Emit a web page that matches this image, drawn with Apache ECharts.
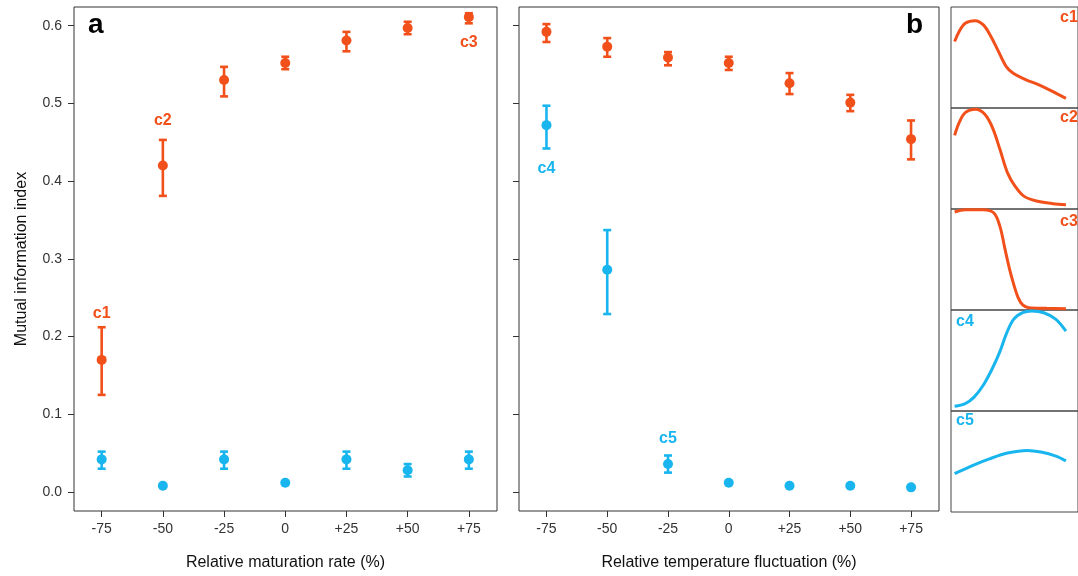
<!DOCTYPE html>
<html>
<head>
<meta charset="utf-8">
<script src="https://cdn.jsdelivr.net/npm/echarts@6/dist/echarts.min.js"></script>
<style>
html,body{margin:0;padding:0;background:#fff;}
#chart{width:1078px;height:576px;}
</style>
</head>
<body>
<div id="chart"></div>
<script>
// ---------- data ----------
const xCategories = [-75, -50, -25, 0, 25, 50, 75];
const yTicks = [0, 0.1, 0.2, 0.3, 0.4, 0.5, 0.6];

// panel a: relative maturation rate
const aOrangeMean = [0.170, 0.420, 0.530, 0.552, 0.581, 0.597, 0.611];
const aOrangeLow  = [0.125, 0.381, 0.509, 0.544, 0.567, 0.589, 0.603];
const aOrangeHigh = [0.212, 0.453, 0.547, 0.560, 0.592, 0.605, 0.616];
const aBlueMean = [0.042, 0.008, 0.042, 0.012, 0.042, 0.028, 0.042];
const aBlueLow  = [0.030, 0.007, 0.030, 0.011, 0.030, 0.020, 0.030];
const aBlueHigh = [0.052, 0.009, 0.052, 0.013, 0.052, 0.036, 0.052];

// panel b: relative temperature fluctuation
const bOrangeMean = [0.592, 0.573, 0.559, 0.552, 0.526, 0.501, 0.454];
const bOrangeLow  = [0.579, 0.560, 0.549, 0.543, 0.512, 0.490, 0.428];
const bOrangeHigh = [0.602, 0.584, 0.566, 0.560, 0.539, 0.511, 0.478];
const bBlueMean = [0.472, 0.286, 0.036, 0.012, 0.008, 0.008, 0.006];
const bBlueLow  = [0.442, 0.229, 0.025, 0.011, 0.007, 0.007, 0.005];
const bBlueHigh = [0.497, 0.337, 0.047, 0.013, 0.009, 0.009, 0.007];

// point annotations
const labelNames = ['c1', 'c2', 'c3', 'c4', 'c5'];

// profile curves (strips c1..c5), relative position and normalized height
const c1X = [4, 9, 15.7, 26.7, 35.7, 44, 52.3, 60.7, 69, 82.3, 95.7, 109, 126.7];
const c1Y = [0.659, 0.757, 0.840, 0.865, 0.823, 0.708, 0.560, 0.413, 0.341, 0.282, 0.233, 0.177, 0.095];
const c2X = [4, 9, 15.7, 27.3, 37.3, 45.7, 54, 62.3, 70.7, 80.7, 95.7, 112.3, 126.7];
const c2Y = [0.729, 0.855, 0.954, 0.987, 0.937, 0.805, 0.589, 0.358, 0.225, 0.125, 0.076, 0.053, 0.043];
const c3X = [4, 15.7, 35.7, 47.3, 54, 59, 64, 69, 74, 79, 85.7, 105.7, 126.7];
const c3Y = [0.970, 0.993, 0.993, 0.960, 0.826, 0.625, 0.425, 0.258, 0.123, 0.050, 0.023, 0.017, 0.013];
const c4X = [4, 15.7, 25.7, 35.7, 45.7, 54, 60.7, 69, 79, 89, 102.3, 115.7, 126.7];
const c4Y = [0.047, 0.073, 0.140, 0.257, 0.423, 0.590, 0.757, 0.907, 0.973, 0.990, 0.973, 0.907, 0.790];
const c5X = [4, 22.3, 42.3, 62.3, 84, 99, 115.7, 126.7];
const c5Y = [0.380, 0.455, 0.526, 0.584, 0.610, 0.594, 0.553, 0.505];

// ---------- styling ----------
const ORANGE = '#F2501A';
const BLUE = '#19B5EE';
const FONT = '"Liberation Sans", Arial, sans-serif';
const AXIS_COLOR = '#333';

const chart = echarts.init(document.getElementById('chart'), null, {renderer: 'canvas'});

const zip3 = (x, a, b) => x.map((v, i) => [v, a[i], b[i]]);
const zip2 = (x, a) => x.map((v, i) => [v, a[i]]);

function errorSeries(idx, data, color) {
  return {
    type: 'custom', xAxisIndex: idx, yAxisIndex: idx, z: 3,
    encode: {x: 0, y: [1, 2]},
    data: data,
    renderItem: function (params, api) {
      const x = api.value(0), lo = api.value(1), hi = api.value(2);
      const pLo = api.coord([x, lo]), pHi = api.coord([x, hi]);
      const w = 4;
      const st = {stroke: color, lineWidth: 2.6};
      return {type: 'group', children: [
        {type: 'line', shape: {x1: pLo[0], y1: pLo[1], x2: pHi[0], y2: pHi[1]}, style: st},
        {type: 'line', shape: {x1: pLo[0] - w, y1: pLo[1], x2: pLo[0] + w, y2: pLo[1]}, style: st},
        {type: 'line', shape: {x1: pHi[0] - w, y1: pHi[1], x2: pHi[0] + w, y2: pHi[1]}, style: st}
      ]};
    }
  };
}

function pointSeries(idx, data, color, labels) {
  return {
    type: 'scatter', xAxisIndex: idx, yAxisIndex: idx, z: 4,
    symbol: 'circle', symbolSize: 10,
    itemStyle: {color: color, opacity: 1},
    data: data.map((d, i) => {
      const item = {value: d};
      if (labels && labels[i]) {
        item.label = {
          show: true, formatter: labels[i].text, position: 'inside',
          offset: labels[i].offset, color: color,
          fontFamily: FONT, fontWeight: 'bold', fontSize: 16
        };
      }
      return item;
    })
  };
}

const xFmt = v => (v > 0 ? '+' + v : String(v));

function mainXAxis(idx, name) {
  return {
    type: 'value', gridIndex: idx, min: -86.3, max: 86.5,
    axisLine: {show: false, onZero: false},
    splitLine: {show: false},
    axisTick: {show: true, length: 6, customValues: xCategories, lineStyle: {color: AXIS_COLOR}},
    axisLabel: {show: true, customValues: xCategories, formatter: xFmt, margin: 11,
      fontFamily: FONT, fontSize: 14, color: AXIS_COLOR},
    name: name, nameLocation: 'middle', nameGap: 44,
    nameTextStyle: {fontFamily: FONT, fontSize: 16, color: '#111'}
  };
}
function mainYAxis(idx, showLabels, name) {
  return {
    type: 'value', gridIndex: idx, min: -0.0244, max: 0.624,
    axisLine: {show: false, onZero: false},
    splitLine: {show: false},
    axisTick: {show: true, length: 6, customValues: yTicks, lineStyle: {color: AXIS_COLOR}},
    axisLabel: {show: showLabels, customValues: yTicks, formatter: v => v.toFixed(1), margin: 12,
      fontFamily: FONT, fontSize: 14, color: AXIS_COLOR},
    name: name || '', nameLocation: 'middle', nameGap: 44,
    nameTextStyle: {fontFamily: FONT, fontSize: 16, color: '#111'}
  };
}

const grids = [
  {left: 74, top: 7, width: 423, height: 505, show: true, borderColor: '#333', borderWidth: 1},
  {left: 519, top: 7, width: 420, height: 505, show: true, borderColor: '#333', borderWidth: 1}
];
const stripTop = 7, stripH = 101;
for (let i = 0; i < 5; i++) {
  grids.push({left: 951, top: stripTop + i * stripH, width: 140, height: stripH,
    show: true, borderColor: '#444', borderWidth: 1});
}

const xAxes = [mainXAxis(0, 'Relative maturation rate (%)'), mainXAxis(1, 'Relative temperature fluctuation (%)')];
const yAxes = [mainYAxis(0, true, 'Mutual information index'), mainYAxis(1, false)];
for (let i = 0; i < 5; i++) {
  xAxes.push({type: 'value', gridIndex: 2 + i, min: 0, max: 140, show: false});
  yAxes.push({type: 'value', gridIndex: 2 + i, min: 0, max: 1, show: false});
}

const curves = [[c1X, c1Y, ORANGE], [c2X, c2Y, ORANGE], [c3X, c3Y, ORANGE], [c4X, c4Y, BLUE], [c5X, c5Y, BLUE]];

const series = [
  errorSeries(0, zip3(xCategories, aOrangeLow, aOrangeHigh), ORANGE),
  errorSeries(0, zip3(xCategories, aBlueLow, aBlueHigh), BLUE),
  errorSeries(1, zip3(xCategories, bOrangeLow, bOrangeHigh), ORANGE),
  errorSeries(1, zip3(xCategories, bBlueLow, bBlueHigh), BLUE),
  pointSeries(0, zip2(xCategories, aOrangeMean), ORANGE,
    {0: {text: labelNames[0], offset: [0, -46]}, 1: {text: labelNames[1], offset: [0, -45]}, 6: {text: labelNames[2], offset: [0, 25]}}),
  pointSeries(0, zip2(xCategories, aBlueMean), BLUE),
  pointSeries(1, zip2(xCategories, bOrangeMean), ORANGE),
  pointSeries(1, zip2(xCategories, bBlueMean), BLUE,
    {0: {text: labelNames[3], offset: [0, 43]}, 2: {text: labelNames[4], offset: [0, -25]}})
];
curves.forEach((c, i) => {
  series.push({
    type: 'line', xAxisIndex: 2 + i, yAxisIndex: 2 + i, smooth: 0.35,
    symbol: 'none', lineStyle: {color: c[2], width: 3},
    data: zip2(c[0], c[1])
  });
});

const stripLabelPos = [[1060, 18, 'left'], [1060, 118, 'left'], [1060, 222, 'left'], [956, 322, 'left'], [956, 421, 'left']];
const graphics = [
  {type: 'text', left: 88, top: 11, style: {text: 'a', font: 'bold 28px ' + FONT, fill: '#000'}, z: 10},
  {type: 'text', left: 906, top: 11, style: {text: 'b', font: 'bold 28px ' + FONT, fill: '#000'}, z: 10}
];
stripLabelPos.forEach((p, i) => {
  graphics.push({type: 'text', x: p[0], y: p[1], z: 10,
    style: {text: labelNames[i], font: 'bold 16px ' + FONT, fill: i < 3 ? ORANGE : BLUE,
      align: p[2], verticalAlign: 'middle'}});
});

chart.setOption({
  backgroundColor: '#fff',
  animation: false,
  grid: grids,
  xAxis: xAxes,
  yAxis: yAxes,
  series: series,
  graphic: graphics
});
</script>
</body>
</html>
